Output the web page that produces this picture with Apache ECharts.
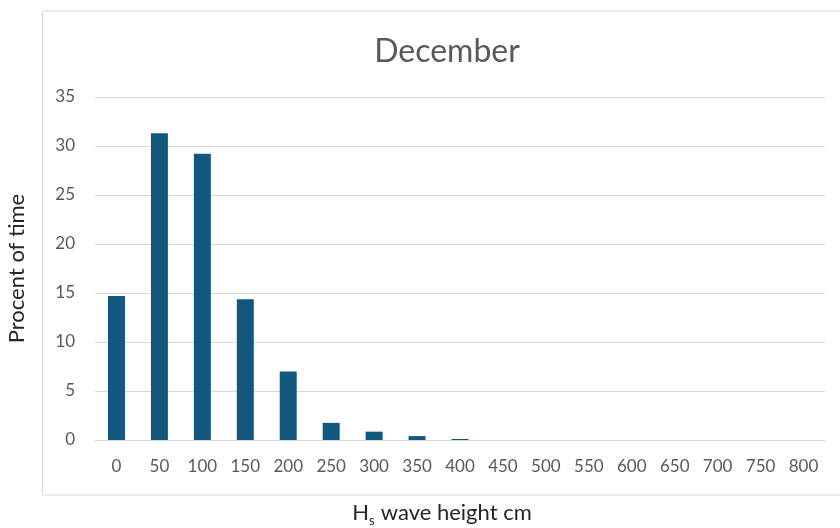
<!DOCTYPE html>
<html><head><meta charset="utf-8">
<script src="https://cdn.jsdelivr.net/npm/echarts@6/dist/echarts.min.js"></script>
<style>html,body{margin:0;padding:0;background:#fff}#c{width:840px;height:528px}</style>
</head><body><div id="c"></div>
<script>
const categories = ['0','50','100','150','200','250','300','350','400','450','500','550','600','650','700','750','800'];
const percentOfTime = [14.7, 31.3, 29.2, 14.35, 7.0, 1.75, 0.85, 0.4, 0.1, 0, 0, 0, 0, 0, 0, 0, 0];
const yTicks = {min: 0, max: 35, interval: 5};
const FONT = 'Lato';
const chart = echarts.init(document.getElementById('c'));
chart.setOption({
  animation: false,
  textStyle: {fontFamily: FONT},
  graphic: [{
    type: 'rect', left: 40, top: 8.5,
    shape: {width: 810, height: 484},
    style: {fill: 'none', stroke: '#d9d9d9', lineWidth: 1}
  }],
  title: {
    text: 'December', left: 442, top: 31, textAlign: 'center',
    textStyle: {fontFamily: FONT, fontSize: 32, fontWeight: 'normal', color: '#595959'}
  },
  grid: {left: 95, right: 15, top: 97, bottom: 88, containLabel: false, outerBoundsMode: 'none'},
  xAxis: {
    type: 'category', data: categories,
    axisLine: {lineStyle: {color: '#d9d9d9'}},
    axisTick: {show: false},
    axisLabel: {color: '#595959', fontSize: 17, margin: 18, fontFamily: FONT},
    name: '{h|H}{s|s}  {h|wave height cm}', nameLocation: 'middle', nameGap: 58,
    nameTextStyle: {
      padding: [0, 36, 0, 0],
      rich: {
        h: {fontSize: 22, color: '#262626', fontFamily: FONT},
        s: {fontSize: 13, color: '#262626', fontFamily: FONT, verticalAlign: 'bottom', padding: [16, 0, 0, 0]}
      }
    }
  },
  yAxis: {
    type: 'value', min: yTicks.min, max: yTicks.max, interval: yTicks.interval,
    axisLine: {show: false}, axisTick: {show: false},
    splitLine: {lineStyle: {color: '#d9d9d9', width: 1}},
    axisLabel: {color: '#595959', fontSize: 17, margin: 20, fontFamily: FONT},
    name: 'Procent of time', nameLocation: 'middle', nameGap: 67,
    nameTextStyle: {fontSize: 22, color: '#262626', fontFamily: FONT}
  },
  series: [{
    type: 'bar', data: percentOfTime, barWidth: 17,
    itemStyle: {color: '#12587e'}
  }]
});
</script></body></html>
